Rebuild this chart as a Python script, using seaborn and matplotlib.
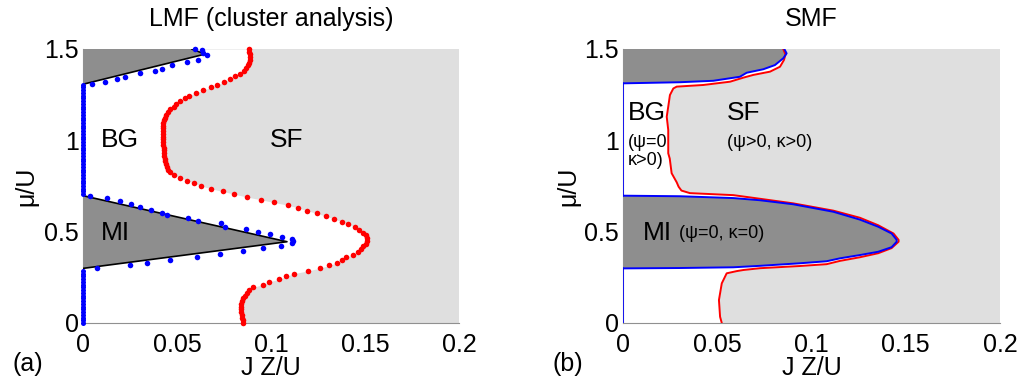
import numpy as np
import matplotlib
matplotlib.use("Agg")
import matplotlib.pyplot as plt
import seaborn as sns

# ---------------- data ----------------
# (a) LMF: superfluid boundary (red dots), sampled on a regular mu grid
lmf_mu = np.linspace(0.0, 1.5, 101)
lmf_sf_x = [
    0.0853, 0.0850, 0.0847, 0.0845, 0.0843, 0.0841, 0.0840, 0.0841, 0.0845, 0.0853,
    0.0862, 0.0872, 0.0885, 0.0905, 0.0955, 0.0990, 0.1045, 0.1080, 0.1120, 0.1195,
    0.1260, 0.1310, 0.1350, 0.1380, 0.1400, 0.1435, 0.1465, 0.1480, 0.1492, 0.1505,
    0.1510, 0.1510, 0.1505, 0.1492, 0.1470, 0.1445, 0.1410, 0.1375, 0.1335, 0.1290,
    0.1245, 0.1190, 0.1145, 0.1090, 0.1015, 0.0945, 0.0870, 0.0805, 0.0745, 0.0680,
    0.0630, 0.0590, 0.0555, 0.0515, 0.0485, 0.0465, 0.0453, 0.0445, 0.0440, 0.0436,
    0.0434, 0.0433, 0.0431, 0.0430, 0.0429, 0.0428, 0.0428, 0.0427, 0.0427, 0.0426,
    0.0426, 0.0425, 0.0426, 0.0428, 0.0432, 0.0437, 0.0444, 0.0452, 0.0465, 0.0482,
    0.0495, 0.0515, 0.0540, 0.0565, 0.0600, 0.0640, 0.0680, 0.0715, 0.0750, 0.0780,
    0.0810, 0.0835, 0.0855, 0.0868, 0.0878, 0.0884, 0.0887, 0.0889, 0.0888, 0.0885,
    0.0882]
# Mott-insulator lobes (grey, black edges)
lmf_mi_x = [0.0, 0.1085, 0.0]
lmf_mi_mu = [0.697, 0.445, 0.299]
lmf_top_x = [0.0, 0.0578, 0.0649, 0.0]
lmf_top_mu = [1.5, 1.5, 1.472, 1.307]
# blue dots on MI lobe edges
lmf_edge_x = [0.0037, 0.0126, 0.0197, 0.0254, 0.0303, 0.0360, 0.0419, 0.0449, 0.0560, 0.0613,
              0.0732, 0.0755, 0.0865, 0.0933, 0.0995, 0.1057, 0.1110, 0.1119, 0.1113, 0.1053,
              0.0959, 0.0849, 0.0729, 0.0608, 0.0463, 0.0342, 0.0250, 0.0073]
lmf_edge_mu = [0.697, 0.683, 0.668, 0.652, 0.637, 0.619, 0.604, 0.593, 0.573, 0.558,
               0.546, 0.527, 0.513, 0.500, 0.487, 0.469, 0.458, 0.450, 0.436, 0.423,
               0.409, 0.394, 0.376, 0.360, 0.345, 0.330, 0.316, 0.302]
lmf_topedge_x = [0.0046, 0.0117, 0.0182, 0.0223, 0.0303, 0.0383, 0.0419, 0.0472, 0.0552, 0.0613,
                 0.0658, 0.0640, 0.0631, 0.0596]
lmf_topedge_mu = [1.307, 1.321, 1.334, 1.349, 1.367, 1.381, 1.389, 1.413, 1.427, 1.440,
                  1.467, 1.476, 1.495, 1.500]
lmf_wall_ranges = [(0.0, 0.299), (0.697, 1.307)]

# (b) SMF: red boundary (kappa), blue boundary (psi / MI)
smf_red_x = [0.0524, 0.0515, 0.0509, 0.0524, 0.0550, 0.0603, 0.0638, 0.0727, 0.0939, 0.1080,
             0.1151, 0.1257, 0.1354, 0.1425, 0.1462, 0.1462, 0.1435, 0.1354, 0.1257, 0.1116,
             0.0903, 0.0727, 0.0585, 0.0355, 0.0310, 0.0295, 0.0285, 0.0258, 0.0248, 0.0240,
             0.0240, 0.0232, 0.0240, 0.0249, 0.0267, 0.0285, 0.0426, 0.0568, 0.0638, 0.0691,
             0.0780, 0.0833, 0.0854, 0.0862, 0.0850]
smf_red_mu = [0.000, 0.034, 0.126, 0.217, 0.272, 0.284, 0.290, 0.300, 0.312, 0.322,
              0.340, 0.360, 0.382, 0.410, 0.445, 0.455, 0.490, 0.535, 0.576, 0.615,
              0.655, 0.680, 0.700, 0.711, 0.725, 0.746, 0.770, 0.820, 0.900, 0.929,
              1.057, 1.129, 1.184, 1.248, 1.284, 1.294, 1.303, 1.321, 1.343, 1.358,
              1.376, 1.403, 1.440, 1.470, 1.500]
smf_mi_x = [0.0, 0.0300, 0.0585, 0.0727, 0.0903, 0.1116, 0.1257, 0.1354, 0.1425, 0.1452,
            0.1452, 0.1425, 0.1354, 0.1257, 0.1151, 0.1080, 0.0939, 0.0727, 0.0585, 0.0300, 0.0]
smf_mi_mu = [0.697, 0.694, 0.684, 0.672, 0.650, 0.609, 0.566, 0.527, 0.490, 0.455,
             0.445, 0.415, 0.390, 0.372, 0.354, 0.338, 0.327, 0.313, 0.305, 0.301, 0.299]
smf_top_x = [0.0, 0.0300, 0.0479, 0.0620, 0.0656, 0.0744, 0.0806, 0.0850, 0.0868, 0.0856, 0.0]
smf_top_mu = [1.312, 1.318, 1.326, 1.348, 1.370, 1.389, 1.412, 1.449, 1.476, 1.500, 1.500]
smf_wall_ranges = [(0.0, 0.299), (0.697, 1.312)]

x_ticks = [0, 0.05, 0.1, 0.15, 0.2]
x_ticklabels = ["0", "0.05", "0.1", "0.15", "0.2"]
y_ticks = [0, 0.5, 1, 1.5]
y_ticklabels = ["0", "0.5", "1", "1.5"]

# ---------------- style ----------------
sns.set_style("white")
plt.rcParams["font.family"] = ["Liberation Sans", "DejaVu Sans"]
plt.rcParams["text.color"] = "black"
plt.rcParams["axes.labelcolor"] = "black"

LIGHT = "#dfdfdf"
DARK = "#8e8e8e"
RED = "#ff0000"
BLUE = "#0000ff"

W, H = 1031, 380
fig = plt.figure(figsize=(W / 100, H / 100), dpi=100)
ax1 = fig.add_axes([83 / W, 57 / H, 376 / W, 274 / H])
ax2 = fig.add_axes([623 / W, 57 / H, 377 / W, 274 / H])

TICK_FS = 18
LAB_FS = 18


def style_axes(ax, title, ylab_x):
    ax.set_facecolor(LIGHT)
    ax.set_xlim(0, 0.2)
    ax.set_ylim(0, 1.5)
    ax.set_xticks(x_ticks)
    ax.set_xticklabels(x_ticklabels)
    ax.set_yticks(y_ticks)
    ax.set_yticklabels(y_ticklabels)
    for s in ["top", "right"]:
        ax.spines[s].set_visible(False)
    for s in ["left", "bottom"]:
        ax.spines[s].set_color("#909090")
        ax.spines[s].set_linewidth(0.8)
    ax.tick_params(axis="both", direction="in", length=4, width=0.8, color="#909090",
                   labelsize=TICK_FS, labelcolor="black")
    ax.tick_params(axis="x", pad=7)
    ax.tick_params(axis="y", pad=3)
    ax.set_xlabel("J Z/U", fontsize=LAB_FS, color="black")
    ax.set_ylabel("μ/U", fontsize=LAB_FS, color="black")
    ax.xaxis.set_label_coords(0.5, -0.12)
    ax.yaxis.set_label_coords(ylab_x, 0.5)
    ax.text(0.5, 1.11, title, transform=ax.transAxes, ha="center", va="center",
            fontsize=18, color="black")


# ---- panel (a) ----
ax = ax1
ax.fill_betweenx(lmf_mu, 0, lmf_sf_x, color="white", lw=0, zorder=1)
ax.fill(lmf_mi_x, lmf_mi_mu, color=DARK, lw=0, zorder=2)
ax.fill(lmf_top_x, lmf_top_mu, color=DARK, lw=0, zorder=2)
sns.lineplot(x=lmf_mi_x, y=lmf_mi_mu, sort=False, estimator=None, ax=ax, color="black",
             lw=1.2, zorder=3)
sns.lineplot(x=lmf_top_x[1:], y=lmf_top_mu[1:], sort=False, estimator=None, ax=ax,
             color="black", lw=1.2, zorder=3)
wall_mu = [m for m in lmf_mu if any(a <= m <= b for a, b in lmf_wall_ranges)]
sns.scatterplot(x=[0.0] * len(wall_mu), y=wall_mu, ax=ax, color=BLUE, s=13, linewidth=0,
                zorder=4, clip_on=False)
sns.scatterplot(x=lmf_edge_x, y=lmf_edge_mu, ax=ax, color=BLUE, s=16, linewidth=0, zorder=4,
                clip_on=False)
sns.scatterplot(x=lmf_topedge_x, y=lmf_topedge_mu, ax=ax, color=BLUE, s=16, linewidth=0,
                zorder=4, clip_on=False)
sns.scatterplot(x=lmf_sf_x, y=lmf_mu, ax=ax, color=RED, s=16, linewidth=0, zorder=4,
                clip_on=False)
ax.text(0.0197, 1.0, "BG", fontsize=19, ha="center", va="center", zorder=5)
ax.text(0.1085, 1.0, "SF", fontsize=19, ha="center", va="center", zorder=5)
ax.text(0.017, 0.49, "MI", fontsize=19, ha="center", va="center", zorder=5)
style_axes(ax, "LMF (cluster analysis)", -0.12)

# ---- panel (b) ----
ax = ax2
ax.fill_betweenx(smf_red_mu, 0, smf_red_x, color="white", lw=0, zorder=1)
ax.fill(smf_mi_x, smf_mi_mu, color=DARK, lw=0, zorder=2)
ax.fill(smf_top_x, smf_top_mu, color=DARK, lw=0, zorder=2)
sns.lineplot(x=smf_red_x, y=smf_red_mu, sort=False, estimator=None, ax=ax, color=RED,
             lw=1.4, zorder=3)
sns.lineplot(x=smf_mi_x, y=smf_mi_mu, sort=False, estimator=None, ax=ax, color=BLUE,
             lw=1.4, zorder=4)
sns.lineplot(x=smf_top_x[:-1], y=smf_top_mu[:-1], sort=False, estimator=None, ax=ax,
             color=BLUE, lw=1.4, zorder=4)
for a, b in smf_wall_ranges:
    sns.lineplot(x=[0.0, 0.0], y=[a, b], sort=False, estimator=None, ax=ax, color=BLUE,
                 lw=1.2, zorder=4)
ax.text(0.0025, 1.15, "BG", fontsize=19, ha="left", va="center", zorder=5)
ax.text(0.0025, 0.99, "(ψ=0", fontsize=13, ha="left", va="center", zorder=5)
ax.text(0.0025, 0.89, "κ>0)", fontsize=13, ha="left", va="center", zorder=5)
ax.text(0.055, 1.15, "SF", fontsize=19, ha="left", va="center", zorder=5)
ax.text(0.055, 0.99, "(ψ>0, κ>0)", fontsize=13, ha="left", va="center", zorder=5)
ax.text(0.0106, 0.49, "MI", fontsize=19, ha="left", va="center", zorder=5)
ax.text(0.0295, 0.49, "(ψ=0, κ=0)", fontsize=13, ha="left", va="center", zorder=5)
style_axes(ax, "SMF", -0.114)

fig.text(12 / W, 1 - 364 / H, "(a)", fontsize=18, ha="left", va="center")
fig.text(552 / W, 1 - 364 / H, "(b)", fontsize=18, ha="left", va="center")

fig.savefig("out.png", dpi=100)
